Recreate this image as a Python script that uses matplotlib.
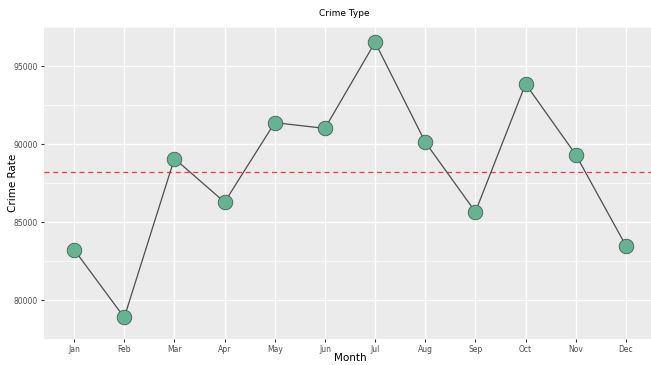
import matplotlib
matplotlib.use("Agg")
import matplotlib.pyplot as plt
import numpy as np

months = ["Jan", "Feb", "Mar", "Apr", "May", "Jun",
          "Jul", "Aug", "Sep", "Oct", "Nov", "Dec"]
crime_rate = [83230, 78880, 89070, 86270, 91370, 91000,
              96520, 90120, 85650, 93850, 89320, 83480]
y_ticks = [80000, 85000, 90000, 95000]

fig = plt.figure(figsize=(6.51, 3.65), dpi=100)
ax = fig.add_axes([44 / 651, 1 - 339 / 365, 612 / 651, 312 / 365])
ax.set_facecolor("#EBEBEB")

x = np.arange(len(months))
mean_rate = np.mean(crime_rate)

ax.plot(x, crime_rate, color="#4d4d4d", linewidth=0.9, zorder=3)
ax.scatter(x, crime_rate, s=110, color="#66b394", edgecolor="#3f5f52",
           linewidth=0.6, zorder=4)
ax.axhline(mean_rate, color="#e0413f", linestyle=(0, (4, 3)), linewidth=0.9, zorder=2)

ax.set_xlim(-0.6, len(months) - 0.4)
span = max(crime_rate) - min(crime_rate)
ax.set_ylim(min(crime_rate) - 0.05 * span, max(crime_rate) + 0.05 * span)

ax.set_xticks(x)
ax.set_xticklabels(months)
ax.set_yticks(y_ticks)
ax.set_yticklabels([str(v) for v in y_ticks])
ax.set_yticks([v + 2500 for v in y_ticks] + [y_ticks[0] - 2500], minor=True)

ax.grid(True, which="major", color="white", linewidth=1.0, zorder=0)
ax.grid(True, which="minor", axis="y", color="white", linewidth=0.5, zorder=0)
ax.set_axisbelow(True)
for s in ax.spines.values():
    s.set_visible(False)
ax.tick_params(which="major", length=2.5, color="#333333", labelsize=5.5,
               labelcolor="#4d4d4d", pad=2)
ax.tick_params(which="minor", length=0)

ax.set_xlabel("Month", fontsize=7.5)
ax.set_ylabel("Crime Rate", fontsize=7.5)
ax.xaxis.set_label_coords((350 - 44) / 612, -(353 - 339) / 312)
ax.yaxis.set_label_coords(-(44 - 18) / 612, 0.5)
fig.text(344 / 651, 1 - 13 / 365, "Crime Type", ha="center", va="center", fontsize=6.5)

fig.savefig("out.png", dpi=100)
